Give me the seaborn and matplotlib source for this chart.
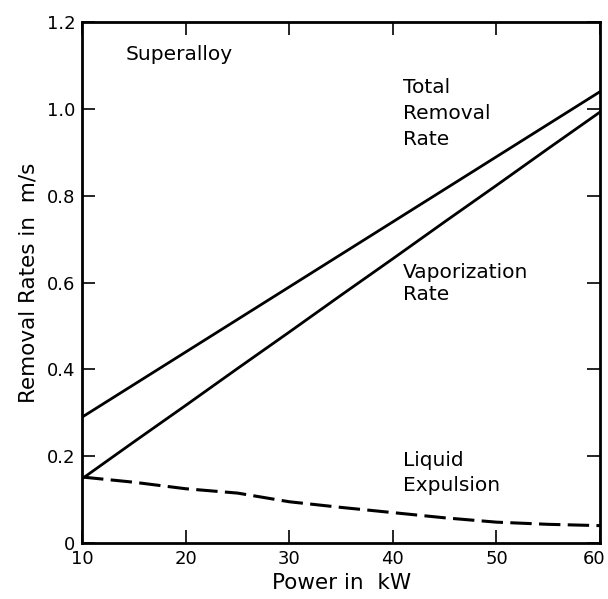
import matplotlib
matplotlib.use("Agg")
import matplotlib.pyplot as plt
import matplotlib.transforms as mtransforms
import seaborn as sns
import pandas as pd

# Removal rates for a superalloy versus laser power
power_kw = [10, 15, 20, 25, 30, 35, 40, 45, 50, 55, 60]
total_removal = [0.290, 0.365, 0.440, 0.515, 0.590, 0.665, 0.740, 0.815, 0.890, 0.965, 1.040]
vaporization = [0.148, 0.233, 0.317, 0.402, 0.486, 0.571, 0.655, 0.740, 0.824, 0.909, 0.993]
liquid_expulsion = [0.152, 0.140, 0.125, 0.115, 0.095, 0.082, 0.070, 0.058, 0.048, 0.043, 0.040]

x_ticks = [10, 20, 30, 40, 50, 60]
y_ticks = [0, 0.2, 0.4, 0.6, 0.8, 1.0, 1.2]
y_tick_labels = ["0", "0.2", "0.4", "0.6", "0.8", "1.0", "1.2"]

df = pd.DataFrame({
    "power": power_kw * 3,
    "rate": total_removal + vaporization + liquid_expulsion,
    "series": ["total"] * 11 + ["vapor"] * 11 + ["liquid"] * 11,
})

sns.set_style("ticks")
plt.rcParams["font.family"] = ["DejaVu Sans"]
plt.rcParams["text.color"] = "black"
plt.rcParams["axes.labelcolor"] = "black"

fig = plt.figure(figsize=(6.08, 5.99), dpi=100)
ax = fig.add_axes([0.135, 0.0935, 0.852, 0.8695])

for name in ["total", "vapor"]:
    sns.lineplot(data=df[df.series == name], x="power", y="rate", ax=ax,
                 color="black", linewidth=2.0)
sns.lineplot(data=df[df.series == "liquid"], x="power", y="rate", ax=ax,
             color="black", linewidth=2.2)
ax.lines[-1].set_dashes([7, 2.4])

ax.set_xlim(10, 60)
ax.set_ylim(0, 1.2)
ax.set_xticks(x_ticks)
ax.set_yticks(y_ticks)
ax.set_yticklabels(y_tick_labels)
ax.tick_params(direction="in", length=9.5, width=1.2, top=True, right=True,
               labelsize=13, colors="black", pad=5)
for sp in ax.spines.values():
    sp.set_linewidth(2.0)
    sp.set_color("black")

# keep the last x tick label inside the figure
last = ax.get_xticklabels()[-1]
last.set_transform(last.get_transform() +
                   mtransforms.ScaledTranslation(-6 / 100, 0, fig.dpi_scale_trans))

ax.set_xlabel("Power in  kW", fontsize=15.5, labelpad=4)
ax.set_ylabel("Removal Rates in  m/s", fontsize=15.5, labelpad=6)

ax.text(14.2, 1.125, "Superalloy", fontsize=14.5, va="center", ha="left")
ax.text(41.0, 0.99, "Total\nRemoval\nRate", fontsize=14.5, va="center", ha="left",
        linespacing=1.45)
ax.text(41.0, 0.598, "Vaporization\nRate", fontsize=14.5, va="center", ha="left",
        linespacing=1.25)
ax.text(41.0, 0.161, "Liquid\nExpulsion", fontsize=14.5, va="center", ha="left",
        linespacing=1.45)

fig.savefig("out.png", dpi=100, facecolor="white")
